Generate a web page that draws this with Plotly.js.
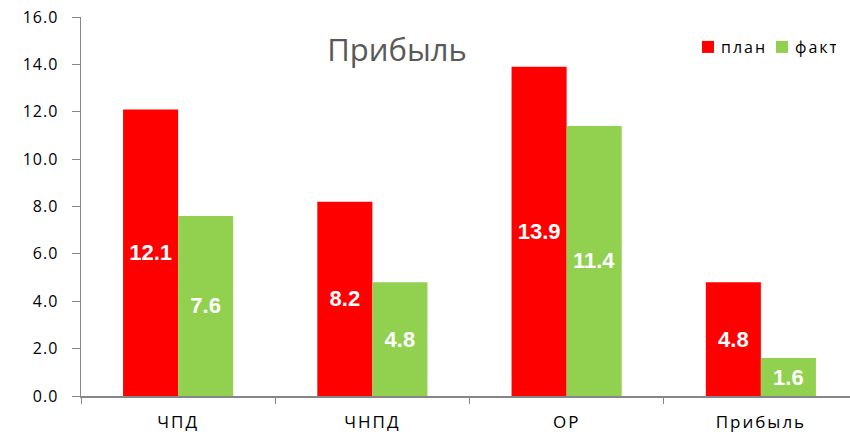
<!DOCTYPE html>
<html><head><meta charset="utf-8">
<script src="https://cdn.plot.ly/plotly-3.0.1.min.js"></script>
<style>
html,body{margin:0;padding:0;overflow:hidden;background:#fff}
#chart .xtick text {letter-spacing: 2px;}
#chart .ytick text {letter-spacing: 1px;}
#chart .legend .legendtext {letter-spacing: 2px; transform: translate(-7px, 0);}
#chart .bartext text {letter-spacing: 2px;}
</style>
</head><body>
<div id="chart"></div>
<script>
const categories = ["ЧПД", "ЧНПД", "ОР", "Прибыль"];
const planValues = [12.1, 8.2, 13.9, 4.8];
const factValues = [7.6, 4.8, 11.4, 1.6];
const seriesNames = ["план", "факт"];
const yTickVals = [0, 2, 4, 6, 8, 10, 12, 14, 16];

const labelFont = {family: "Liberation Sans, Arial, sans-serif", size: 22, color: "#ffffff", weight: "bold"};
function mk(name, vals, color) {
  return {
    type: "bar", name: name, x: categories, y: vals,
    marker: {color: color},
    text: vals.map(v => v.toFixed(1)), textposition: "inside",
    insidetextanchor: "middle", textangle: 0,
    textfont: labelFont, constraintext: "none",
    hoverinfo: "skip"
  };
}
const data = [mk(seriesNames[0], planValues, "#ff0000"), mk(seriesNames[1], factValues, "#92d050")];

const W = 858, H = 436;
const layout = {
  width: W, height: H,
  margin: {l: 81, r: 0, t: 17, b: 40, autoexpand: false},
  paper_bgcolor: "#fff", plot_bgcolor: "#fff",
  barmode: "group", bargap: 0.433, bargroupgap: 0,
  font: {family: "Open Sans, sans-serif", color: "#000"},
  title: {text: "Прибыль", font: {family: "Open Sans, sans-serif", size: 31, color: "#595959"},
          xref: "container", yref: "container",
          x: 397/W, xanchor: "center", y: 1 - 50/H, yanchor: "middle"},
  showlegend: true,
  legend: {orientation: "h", xref: "container", yref: "container",
           x: 688/W, xanchor: "left", y: 1 - 30/H, yanchor: "top",
           font: {family: "Open Sans, sans-serif", size: 16, color: "#000"},
           bgcolor: "rgba(0,0,0,0)", entrywidth: 29, traceorder: "normal"},
  xaxis: {
    type: "category", showline: true, linecolor: "#868686", linewidth: 1.5,
    ticks: "outside", tickson: "boundaries", ticklen: 6, tickcolor: "#868686",
    tickfont: {family: "Open Sans, sans-serif", size: 17, color: "#000"},
    showgrid: false, zeroline: false, fixedrange: true, ticklabelstandoff: 10
  },
  yaxis: {
    range: [0, 16], tickvals: yTickVals, ticktext: yTickVals.map(v => v.toFixed(1)),
    showline: true, linecolor: "#868686", linewidth: 1.5,
    ticks: "outside", ticklen: 8, tickcolor: "#868686",
    tickfont: {family: "Open Sans, sans-serif", size: 16, color: "#000"},
    showgrid: false, zeroline: false, fixedrange: true, ticklabelstandoff: 10
  }
};
Plotly.newPlot("chart", data, layout, {displayModeBar: false, staticPlot: true});
</script>
</body></html>
